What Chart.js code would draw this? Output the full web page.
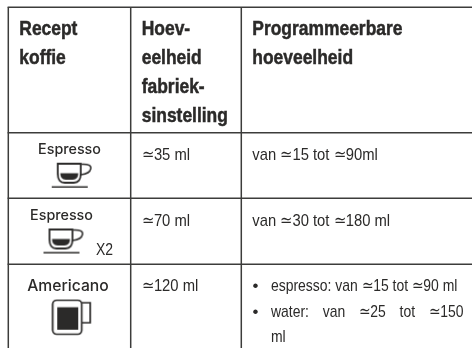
<!DOCTYPE html>
<html lang="nl">
<head>
<meta charset="UTF-8">
<title>Recept koffie</title>
<script src="https://cdn.jsdelivr.net/npm/chart.js"></script>
<style>
    body { margin: 0; background: #fff; }
    canvas { display: block; }
</style>
</head>
<body>
<canvas id="tabel" width="472" height="348"></canvas>
<script>
// table grid
const colEdges = [8.3, 130.7, 241.3];
const rowEdges = [7.3, 132.7, 198.3, 264.3];

// table text: each list is one column, per row the lines of its cell
const headers = [
    ["Recept", "koffie"],
    ["Hoev-", "eelheid", "fabriek-", "sinstelling"],
    ["Programmeerbare", "hoeveelheid"]
];
const recipes = ["Espresso", "Espresso", "Americano"];
const factory = ["≃35 ml", "≃70 ml", "≃120 ml"];
const programmable = [
    ["van ≃15 tot ≃90ml"],
    ["van ≃30 tot ≃180 ml"],
    ["espresso: van ≃15 tot ≃90 ml", "water: van ≃25 tot ≃150", "ml"]
];
const multiplier = "X2";

const ink = "#2b2a29";
const lineColor = "#3c3c3b";
const narrow = '"Liberation Sans", sans-serif';
const round = '"Inter", "Noto Sans", sans-serif';

// small offscreen drawings used as point styles
function makeIcon(w, h, draw) {
    const c = document.createElement("canvas");
    c.width = w;
    c.height = h;
    const g = c.getContext("2d");
    g.strokeStyle = ink;
    g.fillStyle = ink;
    g.lineWidth = 1.5;
    draw(g);
    return c;
}

const cupIcon = makeIcon(42, 28, g => {
    // cup
    g.beginPath();
    g.moveTo(7, 2);
    g.lineTo(30, 2);
    g.lineTo(30, 12);
    g.quadraticCurveTo(30, 21, 23, 21);
    g.lineTo(14, 21);
    g.quadraticCurveTo(7, 21, 7, 12);
    g.closePath();
    g.lineWidth = 1.8;
    g.stroke();
    // handle
    g.beginPath();
    g.lineWidth = 1.5;
    g.moveTo(31, 2.5);
    g.quadraticCurveTo(41, 2, 40, 7);
    g.quadraticCurveTo(39, 12, 30, 13);
    g.stroke();
    // coffee
    g.beginPath();
    g.moveTo(9.5, 11.5);
    g.lineTo(27.5, 11.5);
    g.quadraticCurveTo(27.5, 18, 22, 18);
    g.lineTo(15, 18);
    g.quadraticCurveTo(9.5, 18, 9.5, 11.5);
    g.fill();
    // saucer
    g.fillRect(1, 24.5, 36, 1.5);
});

const mugIcon = makeIcon(42, 38, g => {
    g.lineWidth = 1.7;
    g.beginPath();
    g.roundRect(1.5, 1.5, 29, 34, 4);
    g.stroke();
    // handle
    g.beginPath();
    g.moveTo(31, 4);
    g.lineTo(39, 4);
    g.lineTo(39, 24);
    g.lineTo(31, 24);
    g.stroke();
    // coffee
    g.fillRect(6, 8.5, 21, 22.5);
});

function cellLeft(col) {
    return colEdges[col] + 11;
}

// no condensed font is installed, so the text is squeezed sideways
function drawText(ctx, xs, ys, text, x, y, font, squeeze, align, wordSpacing, heavy) {
    ctx.save();
    ctx.translate(xs.getPixelForValue(x), ys.getPixelForValue(y));
    ctx.scale(squeeze || 1, 1);
    ctx.font = font;
    ctx.textAlign = align || "left";
    ctx.wordSpacing = wordSpacing || "0px";
    ctx.fillText(text, 0, 0);
    if (heavy) {
        ctx.strokeStyle = ink;
        ctx.lineWidth = heavy;
        ctx.strokeText(text, 0, 0);
    }
    ctx.restore();
}

// writes the cell contents on the chart, using the chart's own scales
const tableText = {
    id: "tableText",
    afterDatasetsDraw(chart) {
        const ctx = chart.ctx;
        const xs = chart.scales.x;
        const ys = chart.scales.y;
        ctx.save();
        ctx.fillStyle = ink;
        ctx.textBaseline = "alphabetic";

        const headFont = "bold 21px " + narrow;
        const bodyFont = "17px " + narrow;
        const headSqueeze = 0.83;
        const bodySqueeze = 0.87;
        const listSqueeze = 0.82;

        headers.forEach((lines, col) => {
            lines.forEach((line, i) => {
                drawText(ctx, xs, ys, line, cellLeft(col), rowEdges[0] + 28 + i * 29, headFont, headSqueeze, "left", "0px", 0.5);
            });
        });

        const labelY = [154, 219.5, 290.7];
        const labelFont = ["500 14.3px " + round, "500 14.3px " + round, "500 15.7px " + round];
        const labelX = [69.5, 61.5, 68];
        recipes.forEach((name, i) => {
            drawText(ctx, xs, ys, name, labelX[i], labelY[i], labelFont[i], 1, "center");
        });
        drawText(ctx, xs, ys, multiplier, 96, 255, bodyFont, listSqueeze);

        const bodyY = [160, 225.7, 290.5];
        factory.forEach((txt, i) => {
            drawText(ctx, xs, ys, txt, cellLeft(1), bodyY[i], bodyFont, bodySqueeze);
        });

        drawText(ctx, xs, ys, programmable[0][0], cellLeft(2), bodyY[0], bodyFont, bodySqueeze);
        drawText(ctx, xs, ys, programmable[1][0], cellLeft(2), bodyY[1], bodyFont, bodySqueeze);

        // last cell is a bullet list, the middle line is justified
        const listY = [290.5, 316.5, 342];
        programmable[2].forEach((txt, i) => {
            const spacing = i === 1 ? "12px" : "0px";
            drawText(ctx, xs, ys, txt, 271, listY[i], bodyFont, listSqueeze, "left", spacing);
            if (i < 2) drawText(ctx, xs, ys, "•", 252.5, listY[i], bodyFont, 1);
        });
        ctx.restore();
    }
};

// one dataset per table line
const gridLines = [];
rowEdges.forEach(y => {
    gridLines.push({
        data: [{ x: colEdges[0] - 0.7, y: y }, { x: 472, y: y }],
        showLine: true,
        borderColor: lineColor,
        borderWidth: 1.5,
        pointRadius: 0
    });
});
colEdges.forEach(x => {
    gridLines.push({
        data: [{ x: x, y: rowEdges[0] }, { x: x, y: 348 }],
        showLine: true,
        borderColor: lineColor,
        borderWidth: 1.5,
        pointRadius: 0
    });
});

new Chart(document.getElementById("tabel"), {
    type: "scatter",
    data: {
        datasets: gridLines.concat([
            {
                // cups in the espresso rows
                data: [{ x: 71.7, y: 175.7 }, { x: 63.5, y: 241.5 }],
                pointStyle: cupIcon
            },
            {
                // mug in the americano row
                data: [{ x: 72.2, y: 317.7 }],
                pointStyle: mugIcon
            }
        ])
    },
    options: {
        responsive: false,
        animation: false,
        layout: { padding: 0, autoPadding: false },
        plugins: {
            legend: { display: false },
            tooltip: { enabled: false }
        },
        scales: {
            x: { type: "linear", min: 0, max: 472, display: false },
            y: { type: "linear", min: 0, max: 348, reverse: true, display: false }
        }
    },
    plugins: [tableText]
});
</script>
</body>
</html>
